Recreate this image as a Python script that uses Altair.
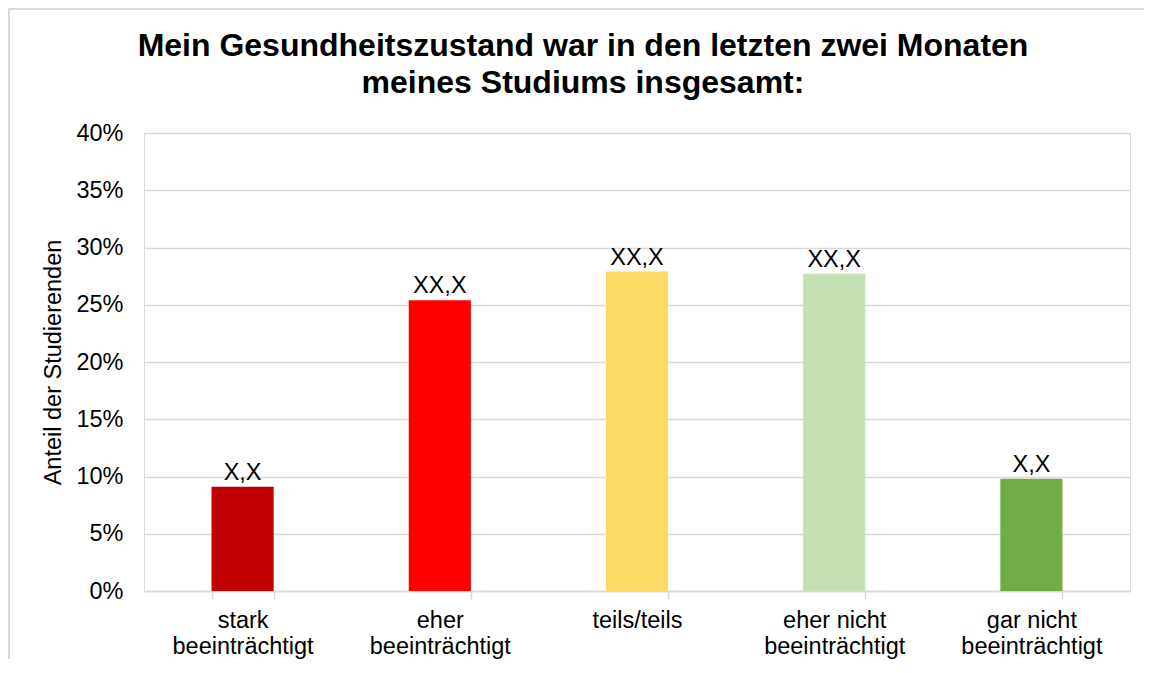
import altair as alt
import pandas as pd

categories = ["stark\nbeeinträchtigt", "eher\nbeeinträchtigt", "teils/teils",
              "eher nicht\nbeeinträchtigt", "gar nicht\nbeeinträchtigt"]
values = [0.091, 0.254, 0.279, 0.277, 0.098]
value_labels = ["X,X", "XX,X", "XX,X", "XX,X", "X,X"]
colors = ["#C00000", "#FF0000", "#FFD966", "#C5E0B4", "#70AD47"]
y_ticks = [0, 0.05, 0.10, 0.15, 0.20, 0.25, 0.30, 0.35, 0.40]

df = pd.DataFrame({"cat": categories, "val": values, "lab": value_labels, "col": colors})

FONT = "Liberation Sans"
W, H = 986, 458

x = alt.X("cat:N", sort=categories, title=None,
          scale=alt.Scale(paddingInner=0.685, paddingOuter=0.3425),
          axis=alt.Axis(labelAngle=0, labelFont=FONT, labelFontSize=23.5, labelColor="#000000",
                        labelExpr="split(datum.label, '\\n')", labelLineHeight=26,
                        labelBaseline="top", labelPadding=9,
                        domainColor="#D9D9D9", domainWidth=1.5,
                        tickColor="#D9D9D9", tickWidth=1.5, tickSize=8, tickBand="extent",
                        grid=False))
y = alt.Y("val:Q", title="Anteil der Studierenden",
          scale=alt.Scale(domain=[0, 0.4], nice=False),
          axis=alt.Axis(values=y_ticks, format=".0%", labelFont=FONT, labelFontSize=23.5,
                        labelColor="#000000", labelPadding=21, ticks=False, domain=False,
                        gridColor="#D9D9D9", gridWidth=1.5,
                        titleFont=FONT, titleFontSize=23.5, titleFontWeight="normal",
                        titleColor="#000000", titleAngle=270, titleX=-91, titleY=H / 2,
                        titleBaseline="middle", titleAlign="center"))

bars = alt.Chart(df).mark_bar().encode(
    x=x, y=y, color=alt.Color("col:N", scale=None))

texts = alt.Chart(df).mark_text(font=FONT, fontSize=23.5, color="#000000",
                                baseline="alphabetic", dy=-7).encode(
    x=alt.X("cat:N", sort=categories),
    y="val:Q", text="lab:N")

border_left = alt.Chart(df).mark_rule(color="#D9D9D9", strokeWidth=3).encode(
    x=alt.value(-135.5), y=alt.value(-124.5), y2=alt.value(H + 120))
border_top = alt.Chart(df).mark_rule(color="#D9D9D9", strokeWidth=3).encode(
    x=alt.value(-135.5), x2=alt.value(W + 40), y=alt.value(-124.5))

chart = alt.layer(bars, texts, border_left, border_top).properties(
    width=W, height=H,
    autosize=alt.AutoSizeParams(type="none"),
    padding={"left": 136, "top": 125, "right": 14, "bottom": 68},
    title=alt.TitleParams(
        text=["Mein Gesundheitszustand war in den letzten zwei Monaten",
              "meines Studiums insgesamt:"],
        font=FONT, fontSize=32, fontWeight="bold", color="#000000",
        anchor="middle", dx=-54, lineHeight=37.5, offset=0, baseline="top", dy=93),
).configure_view(stroke=None).configure(background="white")

chart.save("out.html", embed_options={"renderer": "svg", "actions": False})
